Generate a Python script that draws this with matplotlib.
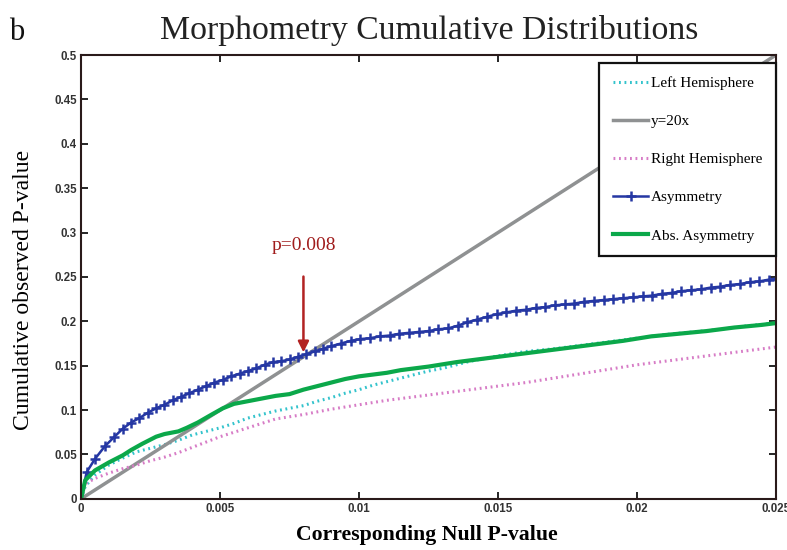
import numpy as np
import matplotlib
matplotlib.use("Agg")
import matplotlib.pyplot as plt
from matplotlib.ticker import FixedLocator

# values (x in units of 1e-3)
asym_x = [0, 0.2, 0.5, 0.85, 1.2, 1.5, 1.8, 2.1, 2.4, 2.7, 3.0, 3.3, 3.6, 3.9, 4.2, 4.5,
          4.8, 5.1, 5.4, 5.7, 6.0, 6.3, 6.6, 6.9, 7.2, 7.5, 7.8, 8.1, 8.4, 8.7, 9.0,
          9.35, 9.7, 10.05, 10.4, 10.75, 11.1, 11.45, 11.8, 12.15, 12.5, 12.85, 13.2,
          13.55, 13.9, 14.25, 14.6, 14.95, 15.3, 15.65, 16.0, 16.35, 16.7, 17.05, 17.4,
          17.75, 18.1, 18.45, 18.8, 19.15, 19.5, 19.85, 20.2, 20.55, 20.9, 21.25, 21.6,
          21.95, 22.3, 22.65, 23.0, 23.35, 23.7, 24.05, 24.4, 24.75, 25.0]
asym_y = [0, 0.030, 0.045, 0.059, 0.070, 0.079, 0.086, 0.091, 0.097, 0.102, 0.106, 0.111,
          0.115, 0.119, 0.123, 0.127, 0.131, 0.134, 0.138, 0.141, 0.144, 0.147, 0.151,
          0.154, 0.155, 0.157, 0.160, 0.163, 0.166, 0.169, 0.172, 0.175, 0.178, 0.180,
          0.181, 0.183, 0.184, 0.186, 0.187, 0.188, 0.189, 0.191, 0.192, 0.195, 0.199,
          0.202, 0.205, 0.208, 0.210, 0.212, 0.213, 0.215, 0.216, 0.218, 0.219, 0.220,
          0.222, 0.223, 0.224, 0.225, 0.226, 0.227, 0.228, 0.229, 0.231, 0.232, 0.234,
          0.235, 0.236, 0.238, 0.239, 0.241, 0.242, 0.244, 0.245, 0.247, 0.248]

abs_x = [0, 0.15, 0.5, 1.0, 1.5, 1.8, 2.2, 2.7, 3.0, 3.5, 3.8, 4.2, 4.7, 5.1, 5.5, 6.0,
         6.5, 7.0, 7.5, 8.0, 8.5, 9.0, 9.5, 10.0, 10.5, 11.0, 11.5, 12.5, 13.5, 14.5,
         15.5, 16.5, 17.5, 18.5, 19.5, 20.5, 21.5, 22.5, 23.5, 24.5, 25.0]
abs_y = [0, 0.021, 0.032, 0.041, 0.049, 0.055, 0.062, 0.070, 0.073, 0.076, 0.080, 0.086,
         0.095, 0.102, 0.107, 0.110, 0.113, 0.116, 0.118, 0.123, 0.127, 0.131, 0.135,
         0.138, 0.140, 0.142, 0.145, 0.149, 0.154, 0.158, 0.162, 0.166, 0.170, 0.174,
         0.178, 0.183, 0.186, 0.189, 0.193, 0.196, 0.198]

left_x = [0, 0.15, 0.5, 1.0, 1.5, 2.0, 2.5, 3.0, 3.5, 4.0, 4.5, 5.0, 5.5, 6.0, 6.5, 7.0,
          7.5, 8.0, 8.5, 9.0, 9.5, 10.0, 10.5, 11.0, 11.5, 12.0, 12.5, 13.0, 13.5, 14.0,
          14.5, 15.0, 16.0, 17.0, 18.0, 19.0, 20.0, 21.0, 22.0, 23.0, 24.0, 25.0]
left_y = [0, 0.014, 0.027, 0.038, 0.046, 0.053, 0.057, 0.061, 0.066, 0.072, 0.076, 0.080,
          0.085, 0.091, 0.095, 0.099, 0.102, 0.105, 0.110, 0.114, 0.119, 0.123, 0.128,
          0.132, 0.136, 0.140, 0.144, 0.147, 0.151, 0.155, 0.158, 0.161, 0.166, 0.169,
          0.173, 0.177, 0.181, 0.185, 0.188, 0.191, 0.195, 0.198]

right_x = [0, 0.15, 0.5, 1.0, 1.5, 2.0, 2.5, 3.0, 3.5, 4.0, 4.5, 5.0, 5.5, 6.0, 6.5, 7.0,
           8.0, 9.0, 10.0, 11.0, 12.0, 13.0, 14.0, 15.0, 16.0, 17.0, 18.0, 19.0, 20.0,
           21.0, 22.0, 23.0, 24.0, 25.0]
right_y = [0, 0.017, 0.023, 0.029, 0.034, 0.038, 0.043, 0.047, 0.052, 0.058, 0.064, 0.070,
           0.075, 0.080, 0.085, 0.090, 0.095, 0.101, 0.106, 0.111, 0.115, 0.119, 0.123,
           0.127, 0.131, 0.136, 0.141, 0.146, 0.151, 0.155, 0.159, 0.163, 0.167, 0.171]

ref_x = [0, 25.0]
ref_slope = 20

x_ticks = [0, 0.005, 0.01, 0.015, 0.02, 0.025]
x_labels = ["0", "0.005", "0.01", "0.015", "0.02", "0.025"]
y_ticks = [0, 0.05, 0.1, 0.15, 0.2, 0.25, 0.3, 0.35, 0.4, 0.45, 0.5]
y_labels = ["0", "0.05", "0.1", "0.15", "0.2", "0.25", "0.3", "0.35", "0.4", "0.45", "0.5"]

serif = ["Liberation Serif", "DejaVu Serif"]
sans = ["Liberation Sans", "DejaVu Sans"]

fig = plt.figure(figsize=(7.87, 5.5), dpi=100)
ax = fig.add_axes([0.103, 0.093, 0.883, 0.807])

s = 1e-3
ax.plot(np.array(left_x) * s, left_y, ls=(0, (0.6, 1.2)), lw=2.2, color="#33c3cc",
        label="Left Hemisphere")
ax.plot(np.array(ref_x) * s, np.array(ref_x) * s * ref_slope, lw=2.5, color="#8f9192",
        label="y=20x")
ax.plot(np.array(right_x) * s, right_y, ls=(0, (0.6, 1.2)), lw=2.2, color="#d77cc6",
        label="Right Hemisphere")
ax.plot(np.array(asym_x) * s, asym_y, lw=1.8, color="#2537a3", marker="+", ms=7, mew=1.8,
        label="Asymmetry")
ax.plot(np.array(abs_x) * s, abs_y, lw=3, color="#0ba84a", label="Abs. Asymmetry")

ax.set_xlim(0, 0.025)
ax.set_ylim(0, 0.5)
ax.xaxis.set_major_locator(FixedLocator(x_ticks))
ax.yaxis.set_major_locator(FixedLocator(y_ticks))
ax.set_xticklabels(x_labels, family=sans, fontsize=8.3, fontweight="bold", color="#333333")
ax.set_yticklabels(y_labels, family=sans, fontsize=8.3, fontweight="bold", color="#333333")
ax.tick_params(direction="in", top=True, right=True, length=5, width=1.2, pad=3)
for sp in ax.spines.values():
    sp.set_linewidth(1.5)
    sp.set_color("#2a1a1a")

ax.set_xlabel("Corresponding Null P-value", family=serif, fontsize=15.7, fontweight="bold")
ax.set_ylabel("Cumulative observed P-value", family=serif, fontsize=17)
ax.xaxis.set_label_coords(0.497, -0.06)
ax.yaxis.set_label_coords(-0.068, 0.47)

fig.text(0.545, 0.944, "Morphometry Cumulative Distributions", family=serif, fontsize=24.3,
         ha="center", va="center", color="#222222")
fig.text(0.012, 0.94, "b", family=serif, fontsize=22, ha="left", va="center", color="#111111")

ax.annotate("p=0.008", xy=(0.008, 0.165), xytext=(0.008, 0.285), family=serif,
            fontsize=14, color="#a01c1c", ha="center", va="center",
            arrowprops=dict(arrowstyle="-|>", color="#b22222", lw=1.8, mutation_scale=16,
                            shrinkA=14, shrinkB=0))

leg = ax.legend(loc="upper right", bbox_to_anchor=(0.9995, 0.983), prop={"family": serif, "size": 11},
                handlelength=2.3, handletextpad=0.15, labelspacing=1.6, borderpad=0.9,
                borderaxespad=0, fancybox=False, framealpha=1)
leg.get_frame().set_edgecolor("#111111")
leg.get_frame().set_linewidth(1.6)

fig.savefig("out.png", dpi=100)
